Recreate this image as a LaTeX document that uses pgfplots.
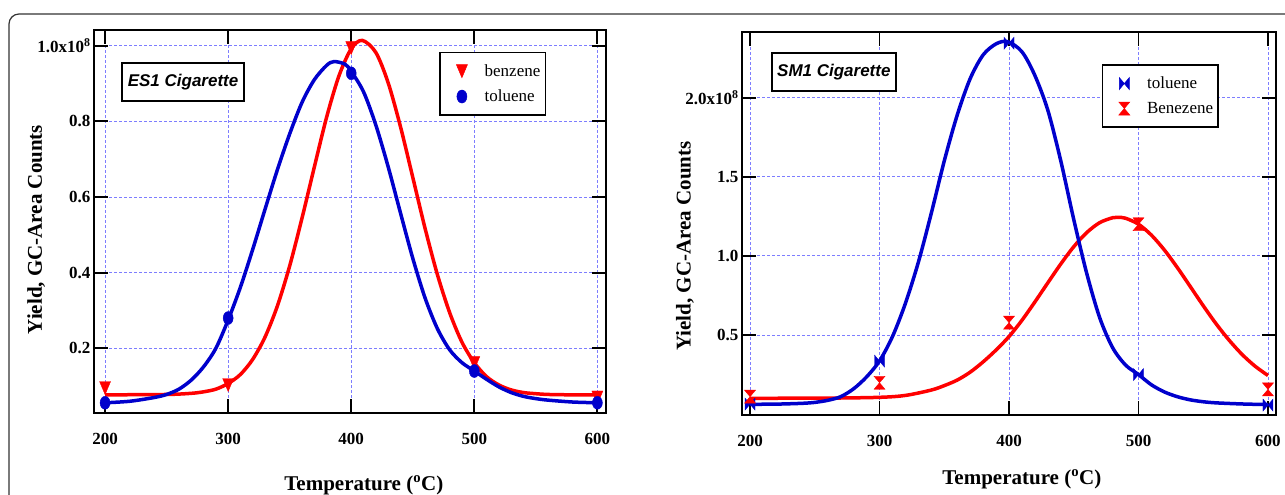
\documentclass[border=0pt]{standalone}
\usepackage{fontspec}
\setmainfont{Liberation Serif}
\newfontfamily\arialf{Liberation Sans}
\usepackage{pgfplots}
\pgfplotsset{compat=1.18}

\definecolor{myred}{RGB}{255,0,0}
\definecolor{myblue}{RGB}{0,0,204}
\definecolor{gridblue}{RGB}{125,125,255}

\pgfdeclareplotmark{dtri}{%
  \pgfpathmoveto{\pgfqpoint{-5.5pt}{6.5pt}}%
  \pgfpathlineto{\pgfqpoint{5.5pt}{6.5pt}}%
  \pgfpathlineto{\pgfqpoint{0pt}{-6.5pt}}%
  \pgfpathclose\pgfusepathqfillstroke}
\pgfdeclareplotmark{ell}{%
  \pgfpathellipse{\pgfpointorigin}{\pgfqpoint{5pt}{0pt}}{\pgfqpoint{0pt}{6.5pt}}%
  \pgfusepathqfillstroke}
\pgfdeclareplotmark{hbow}{%
  \pgfpathmoveto{\pgfqpoint{-5pt}{6pt}}%
  \pgfpathlineto{\pgfqpoint{0pt}{0pt}}%
  \pgfpathlineto{\pgfqpoint{-5pt}{-6pt}}%
  \pgfpathclose
  \pgfpathmoveto{\pgfqpoint{5pt}{6pt}}%
  \pgfpathlineto{\pgfqpoint{0pt}{0pt}}%
  \pgfpathlineto{\pgfqpoint{5pt}{-6pt}}%
  \pgfpathclose\pgfusepathqfillstroke}
\pgfdeclareplotmark{vbow}{%
  \pgfpathmoveto{\pgfqpoint{-5.5pt}{6.5pt}}%
  \pgfpathlineto{\pgfqpoint{5.5pt}{6.5pt}}%
  \pgfpathlineto{\pgfqpoint{0pt}{0pt}}%
  \pgfpathclose
  \pgfpathmoveto{\pgfqpoint{-5.5pt}{-6.5pt}}%
  \pgfpathlineto{\pgfqpoint{5.5pt}{-6.5pt}}%
  \pgfpathlineto{\pgfqpoint{0pt}{0pt}}%
  \pgfpathclose\pgfusepathqfillstroke}

\newcommand\tickfont{\fontsize{17}{17}\selectfont\bfseries}
\newcommand\labfont{\fontsize{21}{21}\selectfont\bfseries}
\newcommand\legfont{\fontsize{17}{20}\selectfont}
\newcommand\boxfont{\fontsize{17}{17}\arialf\bfseries\itshape}

\pgfplotsset{
  mystyle/.style={
    scale only axis,
    clip=false,
    axis line style={line width=1.8pt},
    major tick style={line width=1.8pt, black},
    major tick length=14pt,
    tick align=inside,
    xtick pos=both, ytick pos=both,
    grid=major,
    major grid style={gridblue, dash pattern=on 3pt off 2pt, line width=0.8pt},
    xtick={200,300,400,500,600},
    xticklabels={200,300,400,500,600},
    tick label style={font=\tickfont},
    xticklabel style={yshift=-17pt},
    legend cell align=left,
    legend style={font=\legfont, draw=black, line width=1.5pt, inner xsep=3pt, inner ysep=10pt, row sep=8pt,
      nodes={inner sep=2pt}},
    legend image code/.code={\path (-18pt,0pt) (20pt,0pt); \draw[#1, line width=0.5pt] plot coordinates {(0pt,0pt)};},
  },
  fitline/.style={line width=3.5pt, smooth, forget plot},
}

\pgfplotstableread{
x y
200 0.077
250 0.078
270 0.081
280 0.085
290 0.092
300 0.107
310 0.131
320 0.171
330 0.230
340 0.312
350 0.418
360 0.544
370 0.679
380 0.811
390 0.920
400 0.992
409 1.014
420 0.982
430 0.902
440 0.786
450 0.652
460 0.517
470 0.395
480 0.294
490 0.216
500 0.162
510 0.125
520 0.103
530 0.090
540 0.083
550 0.080
560 0.078
580 0.077
600 0.077
}\esbenzfit

\pgfplotstableread{
x y
200 0.056
220 0.060
240 0.070
250 0.078
260 0.092
270 0.116
280 0.151
290 0.200
300 0.275
310 0.362
320 0.462
330 0.568
340 0.672
350 0.767
360 0.850
370 0.910
380 0.948
386 0.958
395 0.951
400 0.932
410 0.878
420 0.790
430 0.680
440 0.558
450 0.438
460 0.333
470 0.252
480 0.196
490 0.162
500 0.140
510 0.118
520 0.098
530 0.083
540 0.073
550 0.067
560 0.063
580 0.058
600 0.056
}\estolfit

\pgfplotstableread{
x y
200 0.095
300 0.103
400 0.994
500 0.161
600 0.070
}\esbenz

\pgfplotstableread{
x y
200 0.056
300 0.280
400 0.927
500 0.140
600 0.056
}\estol

\pgfplotstableread{
x y
200 0.062
220 0.063
240 0.068
250 0.074
260 0.087
270 0.110
280 0.160
290 0.235
300 0.336
310 0.490
320 0.700
330 0.960
340 1.270
350 1.600
360 1.890
370 2.120
380 2.270
390 2.340
399 2.354
410 2.290
420 2.140
430 1.920
440 1.600
450 1.230
460 0.890
470 0.610
480 0.420
490 0.310
500 0.250
510 0.185
520 0.140
530 0.110
540 0.090
550 0.078
560 0.071
580 0.064
600 0.060
}\smtolfit

\pgfplotstableread{
x y
200 0.100
260 0.101
300 0.106
320 0.118
340 0.152
350 0.180
360 0.215
370 0.265
380 0.330
390 0.405
400 0.490
410 0.593
420 0.709
430 0.830
440 0.949
450 1.058
460 1.147
470 1.210
480 1.241
484 1.244
490 1.238
500 1.200
510 1.131
520 1.037
530 0.926
540 0.806
550 0.685
560 0.570
570 0.467
580 0.377
590 0.303
600 0.244
}\smbenzfit

\pgfplotstableread{
x y
200 0.063
300 0.335
400 2.344
500 0.250
600 0.057
}\smtol

\pgfplotstableread{
x y
200 0.110
300 0.198
400 0.578
500 1.200
600 0.156
}\smbenz

\begin{document}
\begin{tikzpicture}
% left panel
\begin{axis}[mystyle,
  at={(94pt,82pt)}, anchor=south west,
  width=512pt, height=383pt,
  xmin=191, xmax=607, ymin=0.029, ymax=1.0415,
  ytick={0.2,0.4,0.6,0.8,1.0},
  yticklabels={0.2,0.4,0.6,0.8,{1.0x10\textsuperscript{8}}},
  xlabel={Temperature (\textsuperscript{o}C)},
  ylabel={Yield, GC-Area Counts},
  every axis x label/.style={at={(axis description cs:0.527,-0.188)}, anchor=center, font=\labfont},
  every axis y label/.style={at={(axis description cs:-0.113,0.479)}, anchor=center, rotate=90, font=\labfont},
  legend style={at={(0.883,0.943)}, anchor=north east},
]
\addplot[myred, fitline] table {\esbenzfit};
\addplot[myblue, fitline] table {\estolfit};
\addplot[only marks, mark=dtri, color=myred, mark options={fill=myred}] table {\esbenz};
\addlegendentry{benzene}
\addplot[only marks, mark=ell, color=myblue, mark options={fill=myblue}] table {\estol};
\addlegendentry{toluene}
\node[draw, line width=1.5pt, minimum width=122pt, minimum height=38pt, inner sep=0pt, font=\boxfont, fill=white]
  at (rel axis cs:0.174,0.864) {ES1 Cigarette};
\end{axis}

% right panel
\begin{axis}[mystyle,
  at={(742pt,80pt)}, anchor=south west,
  width=534pt, height=383pt,
  xmin=193.8, xmax=606.2, ymin=-0.0057, ymax=2.415,
  ytick={0.5,1.0,1.5,2.0},
  yticklabels={0.5,1.0,1.5,{2.0x10\textsuperscript{8}}},
  xlabel={Temperature (\textsuperscript{o}C)},
  ylabel={Yield, GC-Area Counts},
  every axis x label/.style={at={(axis description cs:0.524,-0.167)}, anchor=center, font=\labfont},
  every axis y label/.style={at={(axis description cs:-0.107,0.441)}, anchor=center, rotate=90, font=\labfont},
  legend style={at={(0.893,0.916)}, anchor=north east},
]
\addplot[myred, fitline] table {\smbenzfit};
\addplot[myblue, fitline] table {\smtolfit};
\addplot[only marks, mark=hbow, color=myblue, mark options={fill=myblue}] table {\smtol};
\addlegendentry{toluene}
\addplot[only marks, mark=vbow, color=myred, mark options={fill=myred}] table {\smbenz};
\addlegendentry{Benezene}
\node[draw, line width=1.5pt, minimum width=124pt, minimum height=38pt, inner sep=0pt, font=\boxfont, fill=white]
  at (rel axis cs:0.172,0.896) {SM1 Cigarette};
\end{axis}

\draw[line width=1.2pt, black!80, rounded corners=10pt] (9pt,-2pt) |- (1290pt,481pt);
\pgfresetboundingbox
\path[use as bounding box] (0pt,0pt) rectangle (1285pt,495pt);
\end{tikzpicture}
\end{document}
